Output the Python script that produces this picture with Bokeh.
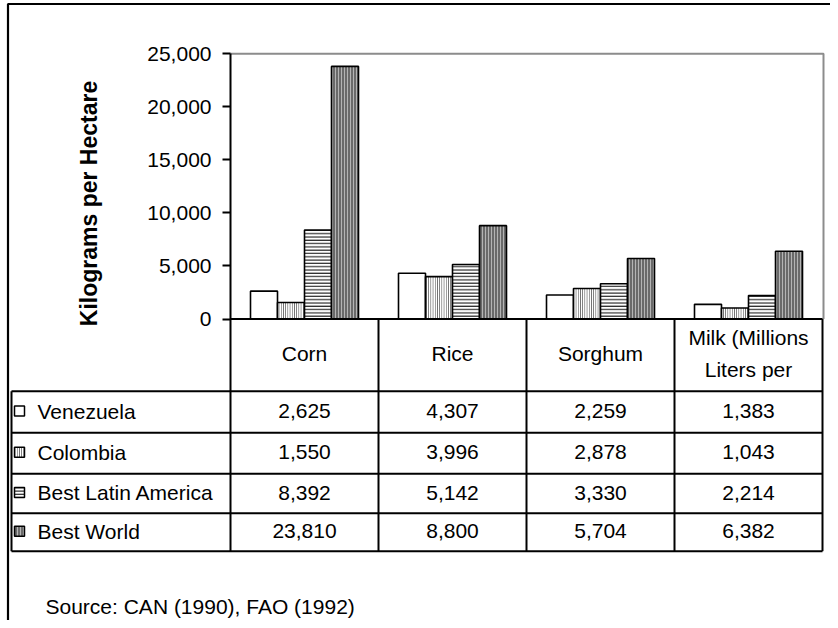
import math
from bokeh.plotting import figure
from bokeh.models import Range1d, LinearAxis, FixedTicker, NumeralTickFormatter
from bokeh.core.properties import value
from bokeh.embed import file_html
from bokeh.resources import INLINE

# ---------------- data ----------------
categories = ["Corn", "Rice", "Sorghum", "Milk (Millions\nLiters per"]
series_names = ["Venezuela", "Colombia", "Best Latin America", "Best World"]
venezuela = [2625, 4307, 2259, 1383]
colombia = [1550, 3996, 2878, 1043]
best_latin_america = [8392, 5142, 3330, 2214]
best_world = [23810, 8800, 5704, 6382]
y_ticks = [0, 5000, 10000, 15000, 20000, 25000]
y_title = "Kilograms per Hectare"
source_note = "Source: CAN (1990), FAO (1992)"

series_values = [venezuela, colombia, best_latin_america, best_world]

# ---------------- layout helpers (picture pixels -> data units) ----------------
W, H = 830, 620
COL_LEFT = 230.0      # x of first category column
COL_W = 148.0         # px per category column
ZERO_Y = 318.5        # y of value 0
K = 265.2 / 25000.0   # px per value unit


def X(px):
    return (px - COL_LEFT) / COL_W


def Y(py):
    return (ZERO_Y - py) / K


FONT = value("Liberation Sans")
FS = "21px"

p = figure(width=W, height=H,
           x_range=Range1d(X(0), X(W)),
           y_range=Range1d(Y(H), Y(0)),
           output_backend="svg", toolbar_location=None,
           x_axis_location=None, y_axis_location=None,
           min_border=0)
p.outline_line_color = None
p.grid.grid_line_color = None
p.background_fill_color = "white"
p.border_fill_color = "white"

# ---------------- bar styles ----------------
styles = [
    dict(fill_color="white", hatch_pattern=None),
    dict(fill_color="white", hatch_pattern="vertical_line", hatch_color="#444444",
         hatch_scale=2.2, hatch_weight=1),
    dict(fill_color="white", hatch_pattern="horizontal_line", hatch_color="black",
         hatch_scale=3.3, hatch_weight=1),
    dict(fill_color="#6a6a6a", hatch_pattern="vertical_line", hatch_color="#b4b4b4",
         hatch_scale=3, hatch_weight=1),
]

bar_w = 27.0 / COL_W
offsets = [-1.5 * bar_w, -0.5 * bar_w, 0.5 * bar_w, 1.5 * bar_w]
centers = [i + 0.5 for i in range(len(categories))]

for vals, off, st in zip(series_values, offsets, styles):
    xs = [c + off for c in centers]
    kw = {k: v for k, v in st.items() if v is not None}
    p.vbar(x=xs, top=vals, bottom=0, width=bar_w,
           line_color="black", line_width=1.6, **kw)

# ---------------- y axis (drawn at the plot-area's left edge) ----------------
yaxis = LinearAxis(fixed_location=0, bounds=(0, 25000),
                   ticker=FixedTicker(ticks=y_ticks),
                   formatter=NumeralTickFormatter(format="0,0"))
yaxis.axis_line_color = "black"
yaxis.axis_line_width = 2
yaxis.major_tick_out = 8
yaxis.major_tick_in = 0
yaxis.major_tick_line_width = 2
yaxis.minor_tick_line_color = None
yaxis.major_label_text_font = "Liberation Sans"
yaxis.major_label_text_font_size = FS
yaxis.major_label_text_color = "black"
yaxis.major_label_standoff = 11
p.add_layout(yaxis, "left")

# plot-area gray border (top + right)
p.line(x=[X(230), X(823), X(823)], y=[Y(53.3), Y(53.3), Y(ZERO_Y)],
       line_color="#8c8c8c", line_width=2)

# axis title
p.text(x=[X(88)], y=[Y(203)], text=[y_title], angle=math.pi / 2,
       text_align="center", text_baseline="middle",
       text_font=FONT, text_font_size="23px", text_font_style="bold",
       text_color="black")

# ---------------- data table ----------------
row_lines = [390.7, 432.3, 473.3, 512.7, 550.7]
LEG_LEFT = 11
RIGHT = 822
n = len(categories)

# horizontal lines
p.segment(x0=[X(COL_LEFT)], y0=[Y(ZERO_Y)], x1=[X(RIGHT)], y1=[Y(ZERO_Y)],
          line_color="black", line_width=2)
p.segment(x0=[X(LEG_LEFT)] * len(row_lines), y0=[Y(r) for r in row_lines],
          x1=[X(RIGHT)] * len(row_lines), y1=[Y(r) for r in row_lines],
          line_color="black", line_width=2)
# vertical lines
vx = [X(COL_LEFT + COL_W * i) for i in range(n)] + [X(RIGHT)]
p.segment(x0=vx, y0=[Y(ZERO_Y)] * len(vx), x1=vx, y1=[Y(row_lines[-1])] * len(vx),
          line_color="black", line_width=2)
p.segment(x0=[X(LEG_LEFT)], y0=[Y(row_lines[0])], x1=[X(LEG_LEFT)], y1=[Y(row_lines[-1])],
          line_color="black", line_width=2)

# header row (category names)
p.text(x=centers, y=[Y(353)] * n, text=categories,
       text_align="center", text_baseline="middle", text_line_height=1.4,
       text_font=FONT, text_font_size=FS, text_color="black")

# series rows
row_centers = [(row_lines[i] + row_lines[i + 1]) / 2 - 1 for i in range(len(series_names))]
for ri, (name, vals, st) in enumerate(zip(series_names, series_values, styles)):
    rc = row_centers[ri]
    kw = {k: v for k, v in st.items() if v is not None}
    p.quad(left=[X(14)], right=[X(24)], top=[Y(rc - 5)], bottom=[Y(rc + 5)],
           line_color="black", line_width=1.5, **kw)
    p.text(x=[X(37)], y=[Y(rc)], text=[name], text_align="left", text_baseline="middle",
           text_font=FONT, text_font_size=FS, text_color="black")
    p.text(x=centers, y=[Y(rc)] * n, text=[f"{v:,}" for v in vals],
           text_align="center", text_baseline="middle",
           text_font=FONT, text_font_size=FS, text_color="black")

# source note
p.text(x=[X(45)], y=[Y(606)], text=[source_note], text_align="left", text_baseline="middle",
       text_font=FONT, text_font_size=FS, text_color="black")

# outer frame (top + left visible)
p.line(x=[X(7.5), X(7.5), X(W)], y=[Y(H), Y(3.5), Y(3.5)], line_color="black", line_width=2.2)

open("out.html", "w").write(file_html(p, INLINE))
